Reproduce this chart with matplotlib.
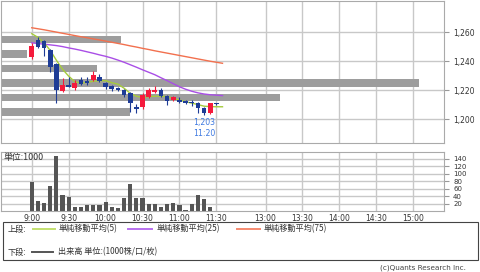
import numpy as np
import matplotlib
matplotlib.use('Agg')
import matplotlib.pyplot as plt
from matplotlib.patches import Rectangle
from matplotlib.lines import Line2D

plt.rcParams['font.family'] = ['DejaVu Sans', 'Noto Sans CJK JP']

# ---- data (5-minute bars from 9:00, slot index = bar number) ----
open_ = [1243.3, 1254.7, 1254.0, 1247.8, 1238.0, 1219.7, 1223.4, 1221.5, 1227.0, 1226.5,
         1227.0, 1229.3, 1225.3, 1223.2, 1221.3, 1220.1, 1217.9, 1208.7, 1208.7, 1215.5,
         1219.0, 1220.6, 1216.0, 1213.3, 1213.3, 1212.4, 1211.9, 1211.0, 1207.6, 1204.1, 1210.8]
high_ = [1252.4, 1257.0, 1255.0, 1248.5, 1238.7, 1228.4, 1228.9, 1227.2, 1228.9, 1229.3,
         1233.2, 1231.0, 1226.0, 1224.0, 1222.2, 1220.8, 1219.0, 1210.5, 1217.9, 1221.3,
         1222.9, 1221.3, 1216.7, 1216.2, 1215.1, 1213.3, 1213.3, 1211.7, 1208.7, 1211.4, 1211.0]
low_ = [1241.6, 1249.5, 1244.0, 1233.0, 1211.2, 1219.2, 1222.0, 1220.5, 1223.6, 1223.6,
        1226.5, 1225.8, 1221.0, 1219.8, 1219.5, 1215.1, 1205.2, 1204.5, 1206.9, 1214.4,
        1217.9, 1215.1, 1209.8, 1212.6, 1211.4, 1210.8, 1209.1, 1204.1, 1203.0, 1203.6, 1210.0]
close_ = [1250.9, 1250.2, 1249.5, 1236.4, 1220.3, 1223.4, 1222.2, 1225.0, 1224.7, 1225.2,
          1230.4, 1226.5, 1222.3, 1221.0, 1220.1, 1216.7, 1211.0, 1207.3, 1216.7, 1220.3,
          1220.6, 1216.0, 1212.8, 1215.5, 1212.1, 1211.4, 1211.0, 1207.6, 1204.1, 1211.0, 1210.3]
volume = [77, 27, 21, 68, 147, 44, 38, 12, 12, 15, 15, 15, 23, 12, 9, 35, 73, 35, 35, 18,
          18, 11, 18, 21, 15, 4, 18, 44, 33, 11, 0]

ma5 = [1259.1, 1256.6, 1252.8, 1247.6, 1240.8, 1234.6, 1229.8, 1226.0, 1225.0, 1225.6,
       1226.3, 1226.7, 1226.7, 1225.3, 1224.3, 1221.5, 1218.0, 1216.0, 1215.0, 1215.7,
       1216.0, 1216.0, 1215.7, 1214.6, 1213.3, 1212.2, 1211.2, 1210.2, 1209.1, 1208.8,
       1208.7, 1208.7]
ma25 = [1252.8, 1252.3, 1251.9, 1251.4, 1250.9, 1250.2, 1249.3, 1248.5, 1247.6, 1246.6,
        1245.6, 1244.5, 1243.5, 1242.3, 1240.9, 1239.4, 1237.7, 1236.0, 1234.2, 1232.5,
        1230.8, 1228.7, 1226.7, 1224.6, 1222.5, 1220.8, 1219.4, 1218.3, 1217.5, 1217.0,
        1216.7, 1216.4]
ma75 = [1263.2, 1262.5, 1261.8, 1261.0, 1260.2, 1259.4, 1258.6, 1257.8, 1257.0, 1256.3,
        1255.5, 1254.8, 1254.0, 1253.2, 1252.4, 1251.6, 1250.7, 1249.9, 1249.0, 1248.2,
        1247.3, 1246.5, 1245.7, 1244.9, 1244.1, 1243.3, 1242.5, 1241.7, 1240.9, 1240.1,
        1239.4, 1238.7]

# volume-at-price profile
vap_price = [1255, 1245, 1235, 1225, 1215, 1205]
vap_volume = [119, 25, 95, 416, 277, 128]

tick_times = ['9:00', '9:30', '10:00', '10:30', '11:00', '11:30',
              '13:00', '13:30', '14:00', '14:30', '15:00']
price_ticks = [1200, 1220, 1240, 1260]
vol_ticks = [20, 40, 60, 80, 100, 120, 140]
low_label = ('1,203', '11:20')


def slot(t):
    h, m = map(int, t.split(':'))
    mins = h * 60 + m
    if mins <= 11 * 60 + 30:
        return (mins - 9 * 60) / 5
    return (mins - (12 * 60 + 30)) / 5 + 32


RED = '#f51a3c'
BLUE = '#1e3c96'
GRID = '#c8c8c8'
SPINE = '#aaaaaa'

W, H = 480, 272
fig = plt.figure(figsize=(W / 100, H / 100), dpi=100)


def box(l, t, r, b):
    return [l / W, 1 - b / H, (r - l) / W, (b - t) / H]


ax = fig.add_axes(box(1, 0.5, 444, 143))
axv = fig.add_axes(box(1, 152, 444, 211))

xs = np.arange(len(open_))
tpos = [slot(t) for t in tick_times]

# ---- upper panel ----
ax.set_axisbelow(True)
ax.grid(True, color=GRID, lw=1.0)
vmax = max(vap_volume)
ax.barh(vap_price, [v / vmax * 0.94 for v in vap_volume], height=5.1, left=0.003,
        color='#9d9d9d', transform=ax.get_yaxis_transform(), zorder=1)

mx = np.arange(len(ma5))
ax.plot(mx, ma75, color='#f2704e', lw=1.0, zorder=2)
ax.plot(mx, ma25, color='#a94ee6', lw=1.0, zorder=2)
ax.plot(mx, ma5, color='#a6cc3c', lw=1.0, zorder=2)

for i in xs:
    o, h, l, c = open_[i], high_[i], low_[i], close_[i]
    col = RED if c > o else BLUE
    ax.vlines(i, l, h, color=col, lw=0.8, zorder=3)
    body = max(abs(c - o), 0.8)
    ax.bar(i, body, bottom=min(o, c), width=0.76, color=col, zorder=4)

i_low = int(np.argmin(low_))
ax.annotate(low_label[0] + '\n' + low_label[1], xy=(i_low, low_[i_low]), xytext=(0, -2.5),
            textcoords='offset points', ha='center', va='top', fontsize=5.6,
            color='#3c78e0', linespacing=1.15)

ax.set_xlim(-5, 67)
ax.set_ylim(1183.7, 1282)
ax.set_xticks(tpos)
ax.tick_params(axis='x', length=0, labelbottom=False)
ax.yaxis.tick_right()
ax.set_yticks(price_ticks)
ax.set_yticklabels([f'{p:,}' for p in price_ticks])
ax.tick_params(axis='y', length=3.5, width=0.8, color='#999999', labelsize=5.5,
               pad=3, labelcolor='#333333')
for s in ax.spines.values():
    s.set_color(SPINE)
    s.set_linewidth(0.8)

# ---- volume panel ----
axv.set_axisbelow(True)
axv.grid(True, color=GRID, lw=1.0)
axv.bar(xs, volume, width=0.68, color='#555555', zorder=2)
axv.set_xlim(-5, 67)
axv.set_ylim(0, 157.6)
axv.set_xticks(tpos)
axv.set_xticklabels(tick_times)
axv.tick_params(axis='x', length=0, labelsize=5.5, pad=2, labelcolor='#333333')
axv.yaxis.tick_right()
axv.set_yticks(vol_ticks)
axv.tick_params(axis='y', length=3.5, width=0.8, color='#999999', labelsize=5.0,
                pad=3, labelcolor='#333333')
for s in axv.spines.values():
    s.set_color(SPINE)
    s.set_linewidth(0.8)
axv.text(0.006, 0.905, '単位:1000', transform=axv.transAxes, fontsize=6.4,
         ha='left', va='center', color='#333333',
         family=['Noto Sans CJK JP', 'DejaVu Sans'])

# ---- legend box ----
fig.add_artist(Rectangle((2.7 / W, 1 - 260 / H), (478 - 2.7) / W, (260 - 221.5) / H,
                         transform=fig.transFigure, fill=False, ec='#444444', lw=0.8))
jp = ['Noto Sans CJK JP', 'DejaVu Sans']


def ftxt(x, y, s, **kw):
    fig.text(x / W, 1 - y / H, s, fontsize=5.9, va='center', ha='left',
             color='#333333', family=jp, **kw)


def fline(x0, x1, y, col):
    fig.add_artist(Line2D([x0 / W, x1 / W], [1 - y / H, 1 - y / H], color=col, lw=1.4,
                          transform=fig.transFigure))


ftxt(8, 229, '上段:')
fline(33, 55, 229, '#c3e070')
ftxt(59, 229, '単純移動平均(5)')
fline(128, 152, 229, '#b870ee')
ftxt(157, 229, '単純移動平均(25)')
fline(237, 260, 229, '#f58a70')
ftxt(264, 229, '単純移動平均(75)')

ftxt(8, 252, '下段:')
fline(32, 53, 252, '#555555')
ftxt(58, 252, '出来高 単位:(1000株/口/枚)')

fig.text(466 / W, 1 - 268 / H, '(c)Quants Research Inc.', fontsize=5.2, ha='right',
         va='center', color='#444444')

fig.savefig('out.png', dpi=100)
